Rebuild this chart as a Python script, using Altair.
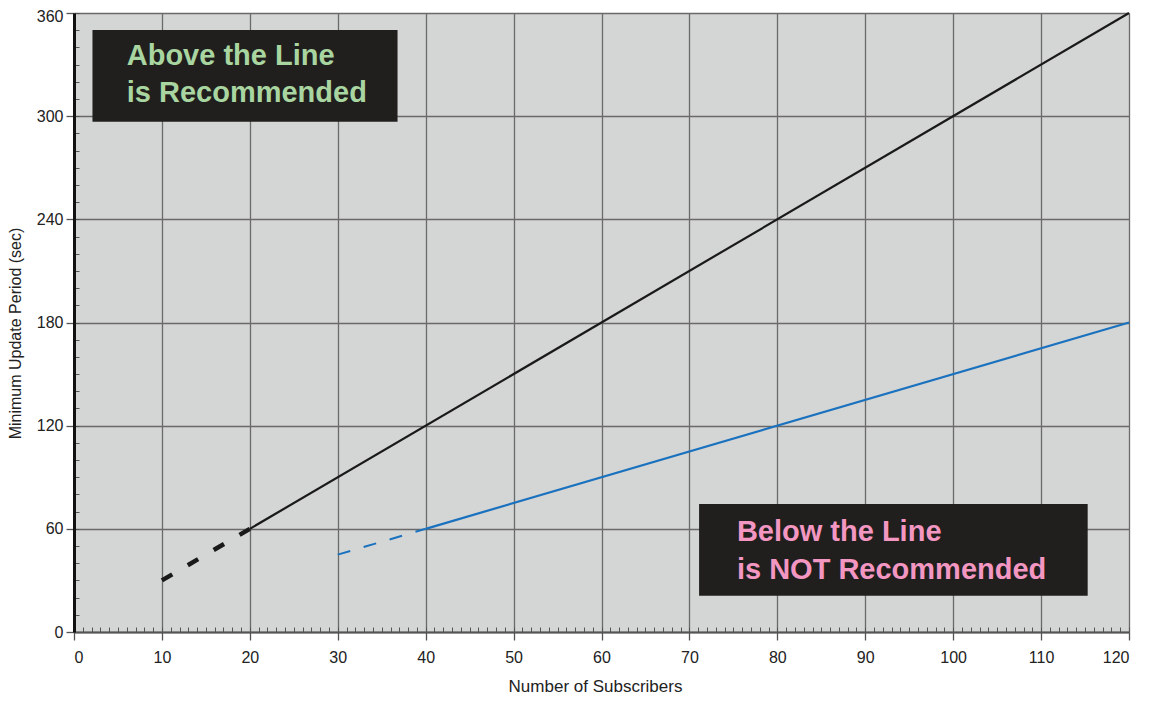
import altair as alt
import pandas as pd

# ---- data ----
black_dash_x = [10, 20]
black_dash_y = [30, 60]
black_x = [20, 120]
black_y = [60, 360]
blue_dash_x = [30, 40]
blue_dash_y = [45, 60]
blue_x = [40, 120]
blue_y = [60, 180]

box_x1 = [2.1, 71.1]
box_x2 = [36.8, 115.3]
box_y1 = [296.8, 21.1]
box_y2 = [350.1, 74.4]

note_lines = ["Above the Line", "is Recommended", "Below the Line", "is NOT Recommended"]
note_x = [6, 6, 75.4, 75.4]
note_y = [329.8, 308.4, 53.1, 30.8]
note_group = ["above", "above", "below", "below"]

x_major = list(range(0, 121, 10))
y_major = list(range(0, 361, 60))
x_minor = list(range(0, 121, 1))
y_minor = list(range(0, 361, 10))

FONT = "Liberation Sans"
xs = alt.Scale(domain=[0, 120], nice=False, zero=False)
ys = alt.Scale(domain=[0, 360], nice=False, zero=False)

df_bd = pd.DataFrame({"x": black_dash_x, "y": black_dash_y})
df_b = pd.DataFrame({"x": black_x, "y": black_y})
df_ud = pd.DataFrame({"x": blue_dash_x, "y": blue_dash_y})
df_u = pd.DataFrame({"x": blue_x, "y": blue_y})
df_box = pd.DataFrame({"x1": box_x1, "x2": box_x2, "y1": box_y1, "y2": box_y2})
df_txt = pd.DataFrame({"t": note_lines, "x": note_x, "y": note_y, "g": note_group})

main_x_axis = alt.Axis(
    values=x_major, grid=True, gridColor="#6a6a6a", gridWidth=1.3,
    domainColor="#555555", domainWidth=2, tickColor="#555555", tickSize=8, tickWidth=1.3,
    labelFont=FONT, labelFontSize=16, labelColor="#222222", labelPadding=9,
    title="Number of Subscribers", titleFont=FONT, titleFontSize=17,
    titleFontWeight="normal", titleColor="#222222",
    titleX=521, titleY=59, titleBaseline="alphabetic", titleAlign="center",
    orient="bottom",
)
main_y_axis = alt.Axis(
    values=y_major, grid=True, gridColor="#6a6a6a", gridWidth=1.3,
    domainColor="#111111", domainWidth=3, tickColor="#555555", tickSize=8, tickWidth=1.3,
    labelFont=FONT, labelFontSize=16, labelColor="#222222", labelPadding=3,
    labelOffset={"condition": {"test": "datum.value == 360", "value": 3}, "value": 0},
    title="Minimum Update Period (sec)", titleFont=FONT, titleFontSize=16,
    titleFontWeight="normal", titleColor="#222222",
    titleX=-54, titleY=320, titleBaseline="alphabetic", titleAlign="center", titleAngle=270,
    orient="left",
)
minor_x_axis = alt.Axis(
    values=x_minor, grid=False, domain=False, labels=False, tickSize=5,
    tickColor="#555555", tickWidth=1, offset=-5, title=None, orient="bottom",
)
minor_y_axis = alt.Axis(
    values=y_minor, grid=False, domain=False, labels=False, tickSize=5,
    tickColor="#555555", tickWidth=1, offset=-5, title=None, orient="left",
)

boxes = alt.Chart(df_box).mark_rect(color="#201f1e").encode(
    x=alt.X("x1:Q", scale=xs, axis=minor_x_axis),
    x2="x2:Q",
    y=alt.Y("y1:Q", scale=ys, axis=minor_y_axis),
    y2="y2:Q",
)

black_line = alt.Chart(df_b).mark_line(color="#1a1a1a", strokeWidth=2.2).encode(
    x=alt.X("x:Q", scale=xs, axis=main_x_axis),
    y=alt.Y("y:Q", scale=ys, axis=main_y_axis),
)
black_dash = alt.Chart(df_bd).mark_line(
    color="#1a1a1a", strokeWidth=4.5, strokeDash=[12, 18]
).encode(
    x=alt.X("x:Q", scale=xs, axis=None),
    y=alt.Y("y:Q", scale=ys, axis=None),
)
blue_line = alt.Chart(df_u).mark_line(color="#1a72bf", strokeWidth=2.2).encode(
    x=alt.X("x:Q", scale=xs, axis=None),
    y=alt.Y("y:Q", scale=ys, axis=None),
)
blue_dash = alt.Chart(df_ud).mark_line(
    color="#1a72bf", strokeWidth=2, strokeDash=[13, 14]
).encode(
    x=alt.X("x:Q", scale=xs, axis=None),
    y=alt.Y("y:Q", scale=ys, axis=None),
)

texts = alt.Chart(df_txt).mark_text(
    align="left", baseline="alphabetic", font=FONT, fontSize=29, fontWeight="bold"
).encode(
    x=alt.X("x:Q", scale=xs, axis=None),
    y=alt.Y("y:Q", scale=ys, axis=None),
    text="t:N",
    color=alt.Color("g:N", scale=alt.Scale(domain=["above", "below"],
                                           range=["#a8d5a0", "#f397c2"]), legend=None),
)

chart = alt.layer(
    boxes, black_line, black_dash, blue_line, blue_dash, texts
).resolve_axis(
    x="independent", y="independent"
).properties(
    width=1055, height=619,
    autosize=alt.AutoSizeParams(type="none"),
    padding={"left": 66, "top": 5, "right": 14, "bottom": 62},
    background="white",
).configure_view(
    fill="#d4d5d5", stroke=None
)

chart.save("out.html", embed_options={"renderer": "svg", "actions": False})
